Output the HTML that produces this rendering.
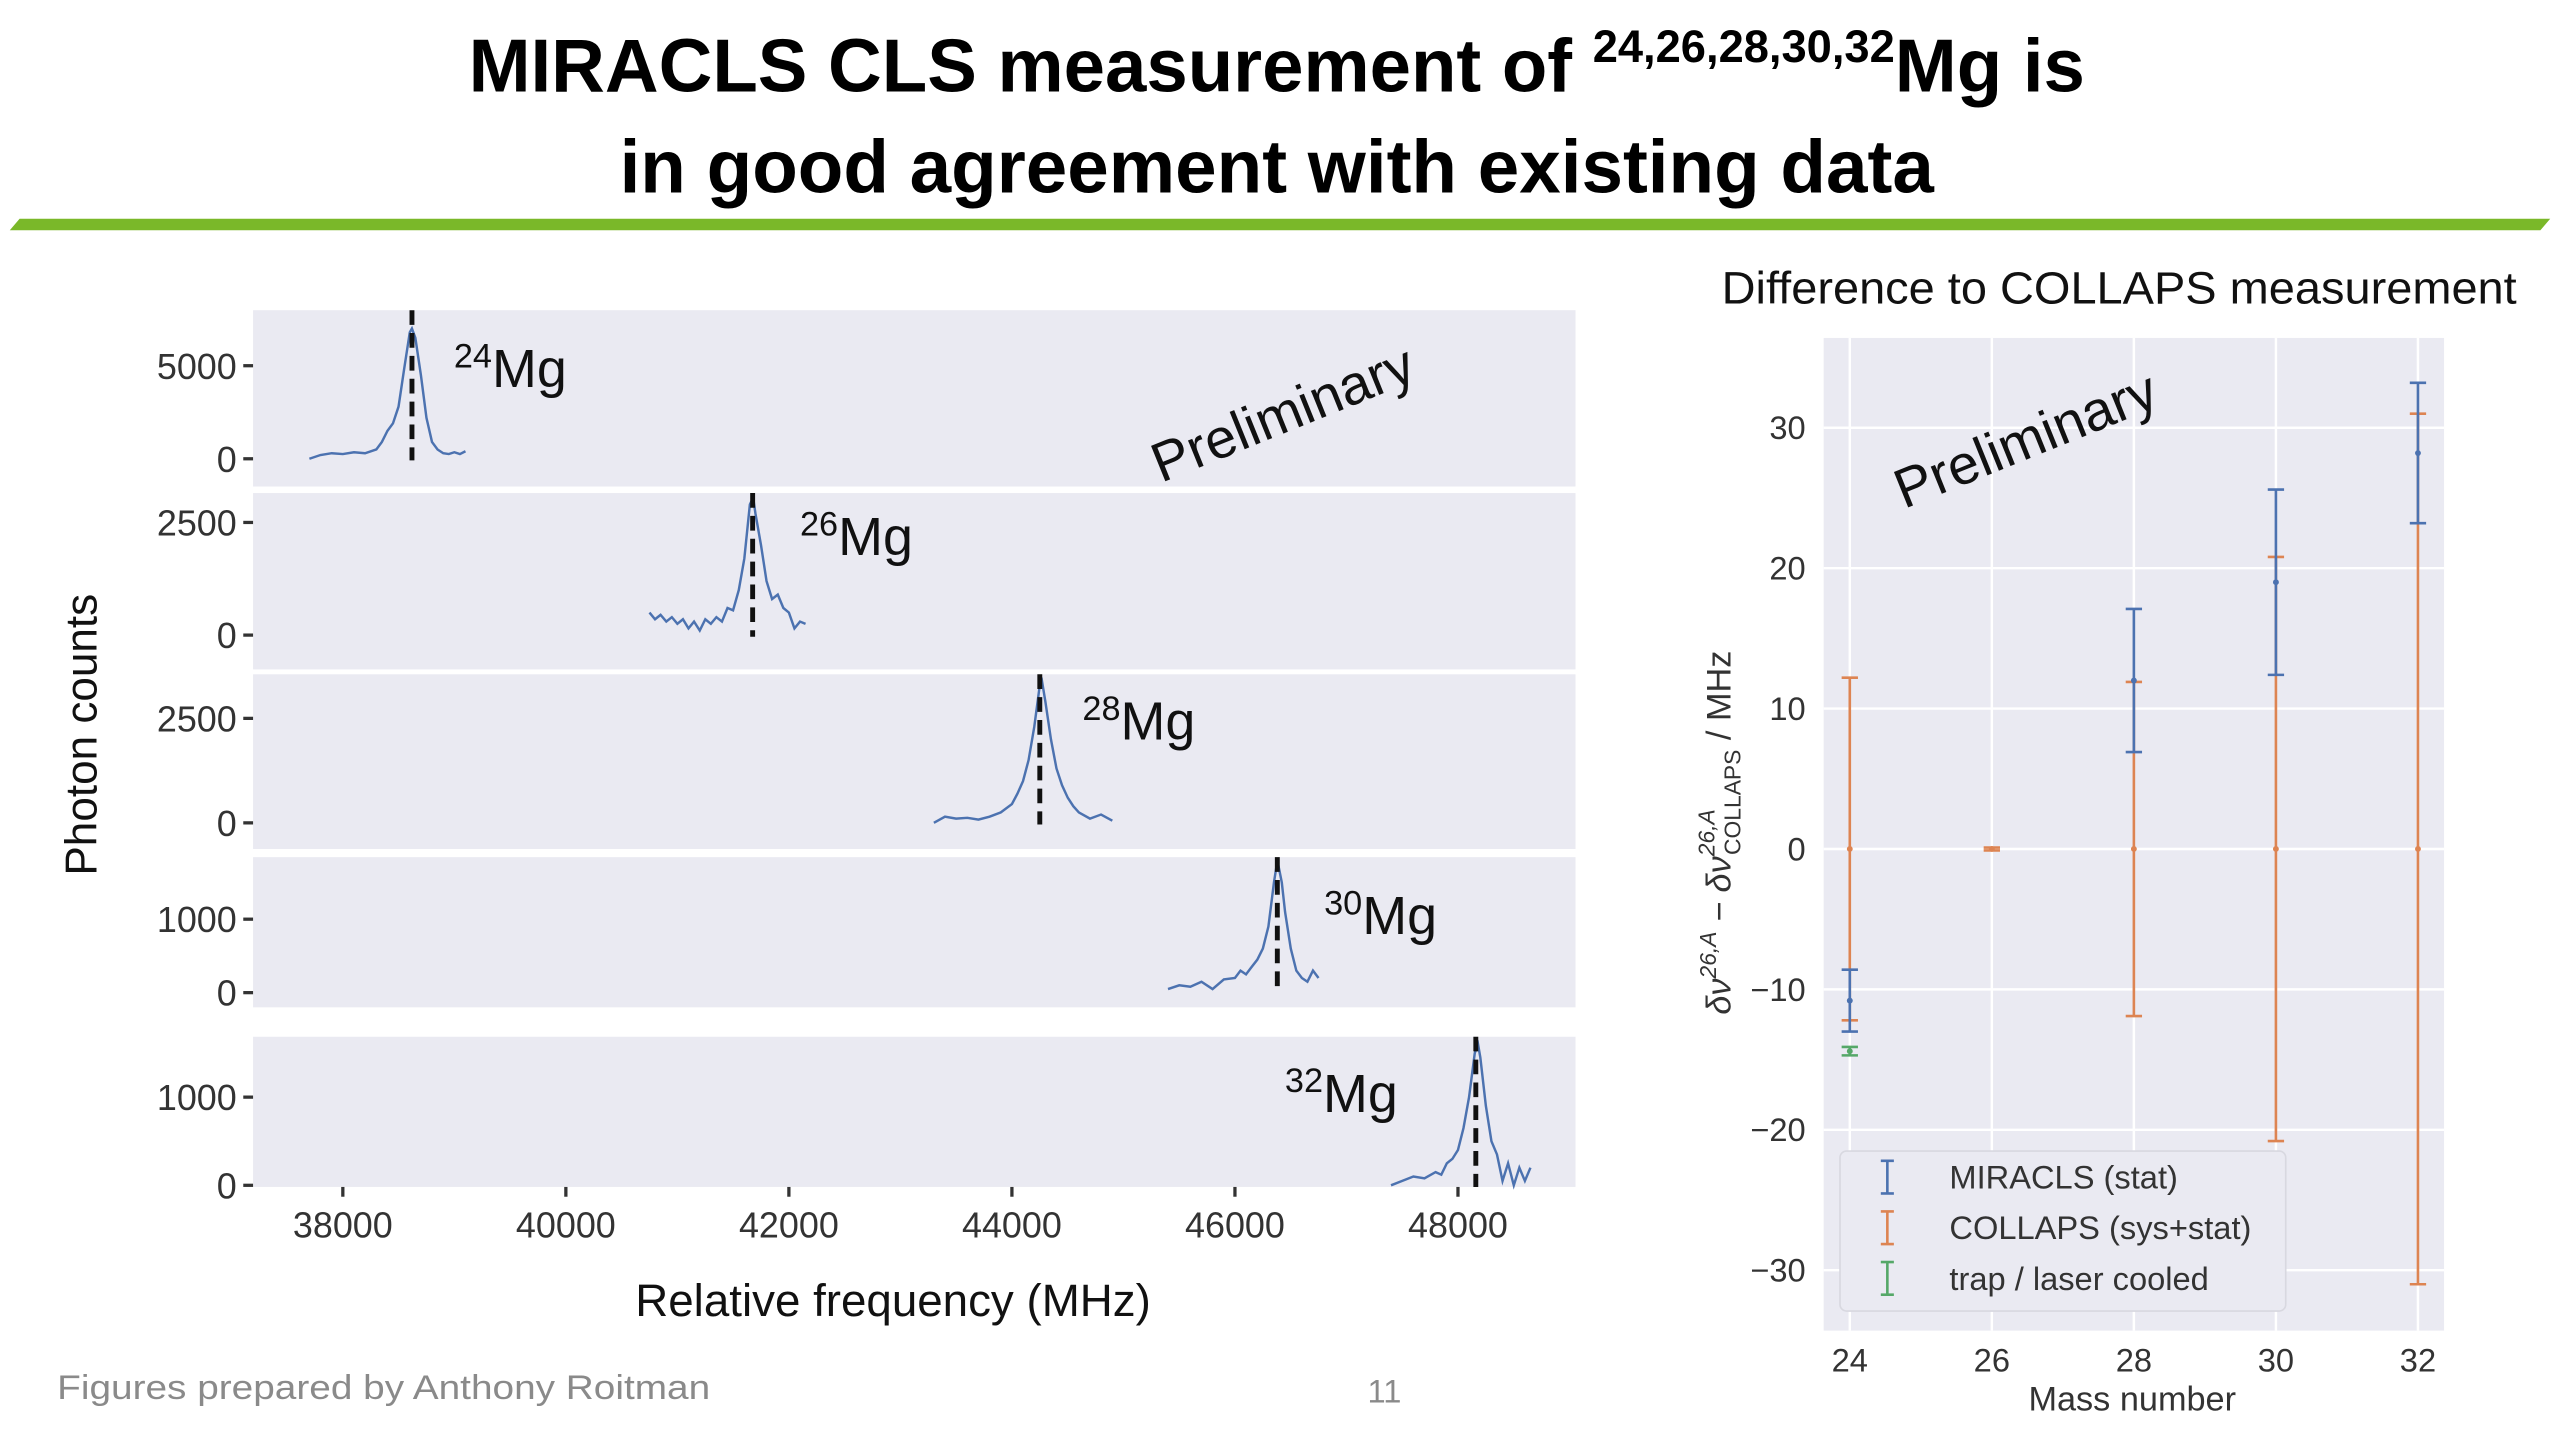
<!DOCTYPE html>
<html><head><meta charset="utf-8"><style>
html,body{margin:0;padding:0;background:#fff;width:2560px;height:1440px;overflow:hidden}
svg{display:block}
text{font-family:"Liberation Sans",sans-serif}
</style></head><body>
<svg id="s" width="2560" height="1440" viewBox="0 0 1568 882" xmlns="http://www.w3.org/2000/svg">
<g>
<text x="782" y="56" text-anchor="middle" font-weight="bold" font-size="46" textLength="990" lengthAdjust="spacingAndGlyphs">MIRACLS CLS measurement of <tspan font-size="28" dy="-18">24,26,28,30,32</tspan><tspan dy="18">Mg is</tspan></text>
<text x="782" y="118" text-anchor="middle" font-weight="bold" font-size="46" textLength="805" lengthAdjust="spacingAndGlyphs">in good agreement with existing data</text>
</g>
<polygon points="12,134 1562,134 1556,141 6,141" fill="#7ab829"/>
<g id="left"></g>
<g id="right"></g>
<text x="35" y="857" font-size="21" fill="#8a8a8a" textLength="400" lengthAdjust="spacingAndGlyphs">Figures prepared by Anthony Roitman</text>
<text x="848" y="859" font-size="20" fill="#8a8a8a" text-anchor="middle">11</text>
</svg>
<script>
const NS="http://www.w3.org/2000/svg";
// ---- left chart data ----
const isotopes=["24","26","28","30","32"];
const centers=[38620,41675,44250,46380,48160];
const f24=[37700,37800,37900,38000,38100,38200,38300,38350,38400,38450,38500,38550,38600,38620,38650,38700,38750,38800,38850,38900,38950,39000,39050,39100];
const c24=[0,200,300,250,350,300,500,900,1500,1900,2800,4800,6800,7000,6500,4500,2200,900,500,300,250,350,250,400];
const f26=[40750,40800,40850,40900,40950,41000,41050,41100,41150,41200,41250,41300,41350,41400,41450,41500,41550,41600,41650,41680,41700,41750,41800,41850,41900,41950,42000,42050,42100,42150];
const c26=[500,350,450,300,400,250,350,150,300,100,350,250,400,300,600,550,1000,1700,2900,3050,2700,2000,1200,800,900,600,500,150,300,250];
const f28=[43300,43400,43500,43600,43700,43800,43900,44000,44050,44100,44150,44200,44250,44270,44300,44350,44400,44450,44500,44550,44600,44700,44800,44900];
const c28=[0,150,100,120,80,150,250,450,700,1000,1500,2300,3300,3400,2900,2000,1300,900,600,400,250,100,200,50];
const f30=[45400,45500,45600,45700,45800,45900,46000,46050,46100,46150,46200,46250,46300,46350,46380,46420,46450,46500,46550,46600,46650,46700,46750];
const c30=[50,100,80,150,50,180,200,300,250,350,450,600,900,1500,1800,1500,1100,600,300,200,150,300,200];
const f32=[47400,47500,47600,47700,47800,47850,47900,47950,48000,48050,48100,48150,48180,48200,48250,48300,48350,48400,48450,48500,48550,48600,48650];
const c32=[0,50,100,80,150,120,250,300,400,650,1000,1500,1600,1450,900,500,350,50,250,0,200,50,200];
const xTicks=[38000,40000,42000,44000,46000,48000];
const yTicksTop=[5000,2500,2500,1000,1000];
// ---- right chart data ----
const masses=[24,28,30,32];
const miraclsVal=[-10.8,12,19,28.2];
const miraclsErr=[2.2,5.1,6.6,5];
const collapsMass=[24,26,28,30,32];
const collapsVal=[0,0,0,0,0];
const collapsErr=[12.2,0.1,11.9,20.8,31];
const trapMass=[24];
const trapVal=[-14.4];
const trapErr=[0.3];
const rxTicks=[24,26,28,30,32];
const ryTicks=[-30,-20,-10,0,10,20,30];

function el(p,t,a,txt){const e=document.createElementNS(NS,t);for(const k in a)e.setAttribute(k,a[k]);if(txt!==undefined)e.textContent=txt;p.appendChild(e);return e;}
const L=document.getElementById('left'),R=document.getElementById('right');
const lx0=155,lx1=965,xmin=37195,xmax=49054;
const X=v=>lx0+(v-xmin)/(xmax-xmin)*(lx1-lx0);
const panels=[[190,298,281,224],[302,410,389,320],[413,520,504,440],[525,617,608,563],[635,727,726,672]];
const fs=[f24,f26,f28,f30,f32],cs=[c24,c26,c28,c30,c32];
const labPos=[[278,237],[490,340],[663,453],[811,572],[787,681]];
panels.forEach((p,i)=>{
  const [top,bot,z,tk]=p;const Y=v=>z-(v/yTicksTop[i])*(z-tk);
  const g=el(L,'g',{});
  
  
  const r=el(g,'rect',{x:lx0,y:top,width:lx1-lx0,height:bot-top,fill:'#eaeaf2'});
  
  [0,yTicksTop[i]].forEach(v=>{
    const t=el(g,'line',{x1:lx0-6,x2:lx0,y1:Y(v),y2:Y(v),stroke:'#333','stroke-width':2});
    
    const l=el(g,'text',{x:lx0-10,y:Y(v)+8,'text-anchor':'end','font-size':22,fill:'#333'},String(v));
    
  });
  const pts=fs[i].map((f,j)=>X(f).toFixed(1)+','+Y(cs[i][j]).toFixed(1)).join(' ');
  const pl=el(g,'polyline',{points:pts,fill:'none',stroke:'#4c72b0','stroke-width':1.5});
  
  const d=el(g,'line',{x1:X(centers[i]),x2:X(centers[i]),y1:top,y2:z+1,stroke:'#111','stroke-width':3,'stroke-dasharray':'9,5'});
  
  const lb=el(g,'text',{x:labPos[i][0],y:labPos[i][1],'font-size':33,fill:'#111'});
  
  el(lb,'tspan',{'font-size':21,dy:-12},isotopes[i]);el(lb,'tspan',{dy:12},'Mg');
});
xTicks.forEach(v=>{
  const t=el(L,'line',{x1:X(v),x2:X(v),y1:727,y2:733,stroke:'#333','stroke-width':2});
  
  const l=el(L,'text',{x:X(v),y:758,'text-anchor':'middle','font-size':22,fill:'#333'},String(v));
  
});
let t=el(L,'text',{x:547,y:806,'text-anchor':'middle','font-size':28,fill:'#111'},'Relative frequency (MHz)');

t=el(L,'text',{x:0,y:0,transform:'translate(59,450) rotate(-90)','text-anchor':'middle','font-size':27,fill:'#111'},'Photon counts');

t=el(L,'text',{x:0,y:0,transform:'translate(790,264) rotate(-22)','text-anchor':'middle','font-size':34,fill:'#111'},'Preliminary');


const rx0=1117,rx1=1497,ry0=207,ry1=815;
const RX=v=>1133+(v-24)/8*(1481-1133);
const RY=v=>520-v*(516/60);
let bg=el(R,'rect',{x:rx0,y:ry0,width:rx1-rx0,height:ry1-ry0,fill:'#eaeaf2'});

rxTicks.forEach(v=>{
  const g=el(R,'line',{x1:RX(v),x2:RX(v),y1:ry0,y2:ry1,stroke:'#fff','stroke-width':1.5});
  
  const l=el(R,'text',{x:RX(v),y:840,'text-anchor':'middle','font-size':20,fill:'#333'},String(v));
  
});
ryTicks.forEach(v=>{
  const g=el(R,'line',{x1:rx0,x2:rx1,y1:RY(v),y2:RY(v),stroke:'#fff','stroke-width':1.5});
  
  const l=el(R,'text',{x:1106,y:RY(v)+7,'text-anchor':'end','font-size':20,fill:'#333'},String(v).replace('-','\u2212'));
  
});
function errs(xs,vs,es,col,name,w){
  xs.forEach((m,i)=>{
    const g=el(R,'g',{stroke:col,'stroke-width':w,fill:col});
    
    const x=RX(m),yt=RY(vs[i]+es[i]),yb=RY(vs[i]-es[i]);
    el(g,'line',{x1:x,x2:x,y1:yt,y2:yb});
    el(g,'line',{x1:x-5,x2:x+5,y1:yt,y2:yt});
    el(g,'line',{x1:x-5,x2:x+5,y1:yb,y2:yb});
    el(g,'circle',{cx:x,cy:RY(vs[i]),r:1.8,stroke:'none'});
  });
}
errs(collapsMass,collapsVal,collapsErr,'#dd8452','collaps',1.6);
errs(masses,miraclsVal,miraclsErr,'#4c72b0','miracls',1.6);
errs(trapMass,trapVal,trapErr,'#55a868','trap',1.6);
const lg=el(R,'g',{});

el(lg,'rect',{x:1127,y:705,width:273,height:98,rx:4,fill:'#eaeaf2',stroke:'#d8d8e0','stroke-width':1});
const legNames=['MIRACLS (stat)','COLLAPS (sys+stat)','trap / laser cooled'];
const legCols=['#4c72b0','#dd8452','#55a868'];
legNames.forEach((n,i)=>{
  const y=721+i*31;
  const e=el(lg,'g',{});
  
  el(e,'line',{x1:1156,x2:1156,y1:y-10,y2:y+10,stroke:legCols[i],'stroke-width':1.6});
  el(e,'line',{x1:1152,x2:1160,y1:y-10,y2:y-10,stroke:legCols[i],'stroke-width':1.6});
  el(e,'line',{x1:1152,x2:1160,y1:y+10,y2:y+10,stroke:legCols[i],'stroke-width':1.6});
  el(e,'text',{x:1194,y:y+7,'font-size':20,fill:'#333'},n);
});
t=el(R,'text',{x:1298,y:186,'text-anchor':'middle','font-size':28,fill:'#111',textLength:487,lengthAdjust:'spacingAndGlyphs'},'Difference to COLLAPS measurement');

t=el(R,'text',{x:1306,y:864,'text-anchor':'middle','font-size':21,fill:'#333'},'Mass number');

t=el(R,'text',{x:0,y:0,transform:'translate(1060,510) rotate(-90)','text-anchor':'middle','font-size':21,fill:'#333','font-style':'italic'});

el(t,'tspan',{},'\u03B4\u03BD');el(t,'tspan',{'font-size':14,dy:-9},'26,A');el(t,'tspan',{dy:9},' \u2212 \u03B4\u03BD');
el(t,'tspan',{'font-size':14,dy:-10},'26,A');el(t,'tspan',{'font-size':14,dx:-28,dy:16,'font-style':'normal'},'COLLAPS');
el(t,'tspan',{dy:-6,'font-style':'normal'},' / MHz');
t=el(R,'text',{x:0,y:0,transform:'translate(1245,280) rotate(-22)','text-anchor':'middle','font-size':34,fill:'#111'},'Preliminary');

</script>
</body></html>
